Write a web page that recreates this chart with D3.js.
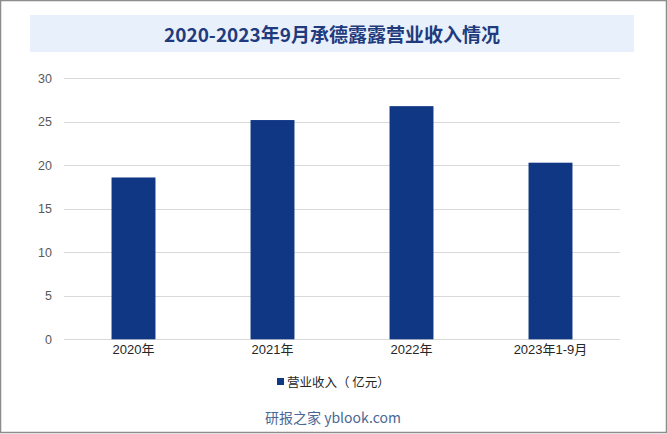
<!DOCTYPE html>
<html><head><meta charset="utf-8">
<script src="https://cdn.jsdelivr.net/npm/d3@7/dist/d3.min.js"></script>
<style>body{margin:0;background:#fff;}svg{display:block;}</style>
</head><body>
<svg id="c" width="667" height="434"></svg>
<script>
const categories = ["2020年", "2021年", "2022年", "2023年1-9月"];
const revenue = [18.6, 25.2, 26.8, 20.3];
const yTicks = [0, 5, 10, 15, 20, 25, 30];
const titleText = "2020-2023年9月承德露露营业收入情况";
const legendText = "营业收入（ 亿元）";
const sourceText = "研报之家 yblook.com";

const svg = d3.select("#c");
const W = 667, H = 434;
svg.append("rect").attr("x",0.5).attr("y",0.5).attr("width",W-1).attr("height",H-2)
  .attr("fill","#fff").attr("stroke","#8c8c8c").attr("stroke-width",1.5);

svg.append("rect").attr("x",30).attr("y",15).attr("width",604).attr("height",37).attr("fill","#e8f0fb");
svg.append("text").attr("x",332).attr("y",42).attr("text-anchor","middle")
  .attr("font-family","'Noto Sans CJK SC',sans-serif").attr("font-weight","bold")
  .attr("font-size",19).attr("fill","#1f3b7d").text(titleText);

const x = d3.scaleBand().domain(categories).range([64,620]).padding(0);
const y = d3.scaleLinear().domain([0,30]).range([339.3,78.3]);

const g = svg.append("g");
g.selectAll("line.grid").data(yTicks).join("line").attr("class","grid")
  .attr("x1",64).attr("x2",620).attr("y1",d=>Math.round(y(d))+0.5).attr("y2",d=>Math.round(y(d))+0.5)
  .attr("stroke","#d9d9d9").attr("stroke-width",1);

const yAxis = svg.append("g").attr("transform","translate(52,0)")
  .call(d3.axisLeft(y).tickValues(yTicks).tickSize(0).tickPadding(0));
yAxis.select(".domain").remove();
yAxis.selectAll("text").attr("font-family","Arial,'Liberation Sans',sans-serif").attr("font-size",12.5).attr("fill","#595959");

const bw = x.bandwidth()*0.316;
g.selectAll("rect.bar").data(revenue).join("rect").attr("class","bar")
  .attr("x",(d,i)=>x(categories[i])+x.bandwidth()/2-bw/2).attr("width",bw)
  .attr("y",d=>y(d)).attr("height",d=>y(0)-y(d)).attr("fill","#0f3784");

const xAxis = svg.append("g").attr("transform","translate(0,345)")
  .call(d3.axisBottom(x).tickSize(0).tickPadding(0));
xAxis.select(".domain").remove();
xAxis.selectAll("text").attr("font-family","Arial,'Liberation Sans','Noto Sans CJK SC',sans-serif").attr("font-size",13).attr("fill","#262626");

svg.append("rect").attr("x",277).attr("y",378).attr("width",7).attr("height",7).attr("fill","#0f3784");
svg.append("text").attr("x",287).attr("y",387).attr("font-family","'Noto Sans CJK SC',sans-serif")
  .attr("font-size",12.5).attr("fill","#262626").text(legendText);

svg.append("text").attr("x",333).attr("y",423).attr("text-anchor","middle")
  .attr("font-family","'Noto Sans CJK SC',Arial,sans-serif").attr("font-size",14).attr("fill","#4a6794").text(sourceText);
</script>
</body></html>
